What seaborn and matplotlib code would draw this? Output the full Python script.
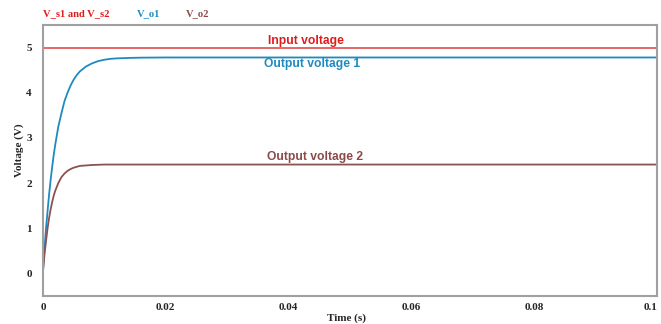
import matplotlib
matplotlib.use("Agg")
import matplotlib.pyplot as plt
import seaborn as sns
import pandas as pd

# Data
time_s = [0, 0.00025, 0.0005, 0.00075, 0.001, 0.00125, 0.0015, 0.00175, 0.002,
          0.0025, 0.003, 0.0035, 0.004, 0.0045, 0.005, 0.0055, 0.006, 0.007,
          0.008, 0.009, 0.010, 0.011, 0.012, 0.014, 0.016, 0.02,
          0.04, 0.06, 0.08, 0.1]
v_input = [5.0] * len(time_s)
v_out1 = [0.05, 0.55, 1.00, 1.38, 1.75, 2.07, 2.36, 2.62, 2.85,
          3.25, 3.54, 3.81, 4.00, 4.16, 4.29, 4.39, 4.47, 4.58,
          4.65, 4.70, 4.73, 4.75, 4.76, 4.77, 4.776, 4.78,
          4.78, 4.78, 4.78, 4.78]
v_out2 = [0.05, 0.42, 0.72, 1.00, 1.23, 1.42, 1.58, 1.72, 1.83,
          2.00, 2.13, 2.21, 2.27, 2.31, 2.34, 2.36, 2.38, 2.39,
          2.40, 2.405, 2.41, 2.41, 2.41, 2.41, 2.41, 2.41,
          2.41, 2.41, 2.41, 2.41]

series_names = ["V_s1 and V_s2", "V_o1", "V_o2"]
curve_labels = ["Input voltage", "Output voltage 1", "Output voltage 2"]
x_ticks = [0, 0.02, 0.04, 0.06, 0.08, 0.1]
x_tick_labels = ["0", "0.02", "0.04", "0.06", "0.08", "0.1"]
y_ticks = [0, 1, 2, 3, 4, 5]

line_colors = ["#e45a5a", "#1f8ac0", "#8a5252"]
text_colors = ["#e01b1b", "#1f8ac0", "#8a4a4a"]

df = pd.concat([
    pd.DataFrame({"t": time_s, "v": v_input, "s": series_names[0]}),
    pd.DataFrame({"t": time_s, "v": v_out1, "s": series_names[1]}),
    pd.DataFrame({"t": time_s, "v": v_out2, "s": series_names[2]}),
])

sns.set_style("white")
plt.rcParams["font.family"] = ["Liberation Serif", "DejaVu Serif"]

fig = plt.figure(figsize=(6.61, 3.24), dpi=100)
ax = fig.add_axes([0.065, 0.0864, 0.929, 0.8366])

sns.lineplot(data=df, x="t", y="v", hue="s", palette=dict(zip(series_names, line_colors)),
             linewidth=1.3, legend=False, ax=ax, estimator=None)

ax.set_xlim(0, 0.1)
ax.set_ylim(-0.5, 5.5)
ax.set_xticks(x_ticks)
ax.set_xticklabels(x_tick_labels)
ax.set_yticks(y_ticks)
ax.tick_params(axis="x", length=0, labelsize=8, pad=5)
ax.tick_params(axis="y", length=0, labelsize=8, pad=8)
for lab in ax.get_xticklabels() + ax.get_yticklabels():
    lab.set_fontweight("bold")
xl = ax.get_xticklabels()
xl[-1].set_horizontalalignment("right")
ax.set_xlabel("Time (s)", fontsize=8, fontweight="bold")
ax.set_ylabel("Voltage (V)", fontsize=8, fontweight="bold")
# label positions in axes-fraction coordinates
ax.xaxis.set_label_coords((347 - 43) / 614, -(318 - 296) / 271)
ax.yaxis.set_label_coords(-(43 - 19) / 614, (296 - 150) / 271)
ax.xaxis.label.set_va("center")
ax.yaxis.label.set_va("center")

for sp in ax.spines.values():
    sp.set_color("#a0a0a0")
    sp.set_linewidth(1.5)

# legend-like labels at top
legend_x = [43, 137, 186]
for name, col, xp in zip(series_names, text_colors, legend_x):
    fig.text(xp / 661, 1 - 14 / 324, name, color=col, fontsize=7.6, fontweight="bold",
             ha="left", va="center")

# curve annotations
ann_pos = [(306, 41), (312, 64), (315, 157)]
for lab, col, (xp, yp) in zip(curve_labels, text_colors, ann_pos):
    fig.text(xp / 661, 1 - yp / 324, lab, color=col, fontsize=8.7, fontweight="bold",
             ha="center", va="center", family=["Liberation Sans", "DejaVu Sans"])

fig.savefig("out.png", dpi=100)
